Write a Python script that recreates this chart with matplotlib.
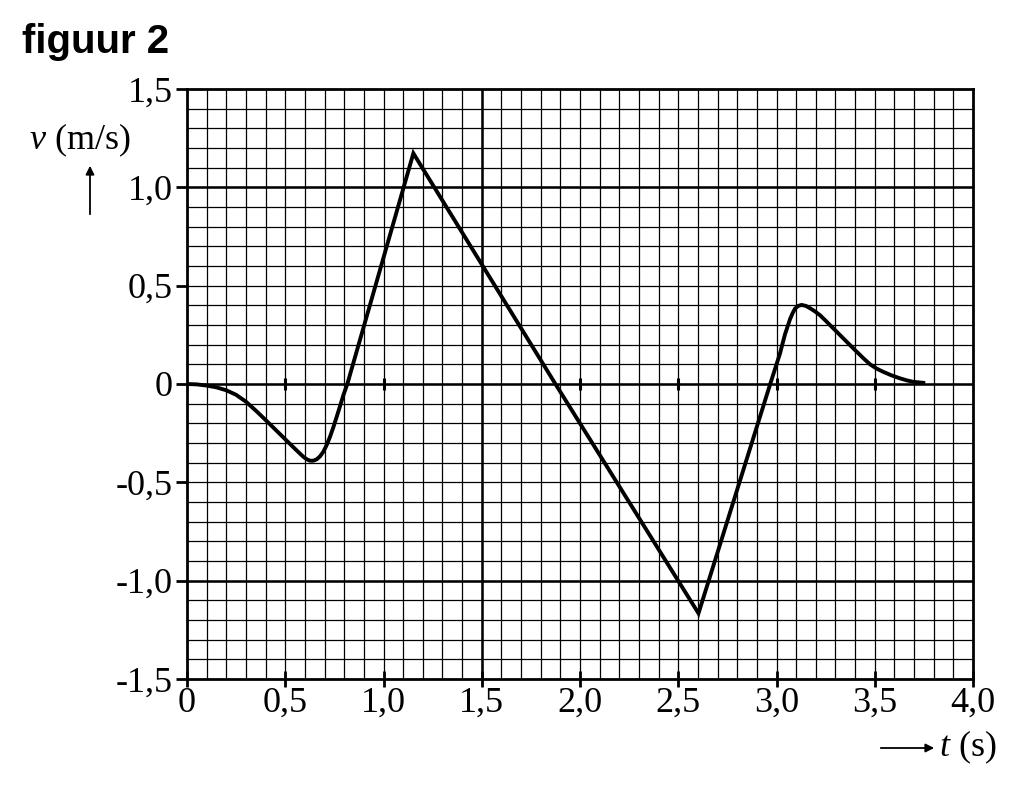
import numpy as np
import matplotlib.pyplot as plt
from matplotlib.patches import FancyArrowPatch

t = [0.00, 0.05, 0.10, 0.15, 0.20, 0.25, 0.30, 0.35, 0.40, 0.45, 0.507, 0.55,
     0.592, 0.61, 0.626, 0.643, 0.66, 0.677, 0.694, 0.711, 0.728, 0.745,
     0.762, 0.779, 0.796, 0.816, 1.152,
     1.875, 2.603, 2.968, 3.018, 3.043, 3.069, 3.082, 3.094, 3.11,
     3.128, 3.15, 3.171, 3.196, 3.221, 3.25, 3.30, 3.35, 3.40, 3.44, 3.476,
     3.51, 3.543, 3.585, 3.628, 3.665, 3.696, 3.747]
v = [0.000, -0.002, -0.008, -0.017, -0.032, -0.055, -0.090, -0.135, -0.183,
     -0.232, -0.288, -0.330, -0.370, -0.383, -0.390, -0.390, -0.383, -0.368,
     -0.344, -0.310, -0.268, -0.219, -0.166, -0.112, -0.056, 0.000, 1.173,
     0.000, -1.166, 0.000, 0.156, 0.252, 0.330, 0.360, 0.383, 0.397,
     0.402, 0.397, 0.385, 0.369, 0.350, 0.322, 0.272, 0.222, 0.172, 0.133,
     0.100, 0.078, 0.062, 0.044, 0.029, 0.018, 0.011, 0.006]

x_ticks = [0, 0.5, 1.0, 1.5, 2.0, 2.5, 3.0, 3.5, 4.0]
x_labels = ["0", "0,5", "1,0", "1,5", "2,0", "2,5", "3,0", "3,5", "4,0"]
y_ticks = [-1.5, -1.0, -0.5, 0, 0.5, 1.0, 1.5]
y_labels = ["-1,5", "-1,0", "-0,5", "0", "0,5", "1,0", "1,5"]
major_t = [1.5]
major_v = [-1.0, 0, 1.0]

plt.rcParams["font.family"] = "Liberation Serif"
plt.rcParams["mathtext.fontset"] = "custom"
plt.rcParams["mathtext.rm"] = "Liberation Serif"
plt.rcParams["mathtext.it"] = "Liberation Serif:italic"

fig = plt.figure(figsize=(10.21, 7.85), dpi=100)
ax = fig.add_axes([187 / 1021, 1 - 679 / 785, 786 / 1021, 590 / 785])

ax.set_xlim(0, 4.0)
ax.set_ylim(-1.5, 1.5)

# millimetre-style grid
for x in np.arange(0.1, 4.0, 0.1):
    ax.axvline(x, color="black", lw=0.9, zorder=1)
for y in np.arange(-1.4, 1.5, 0.1):
    ax.axhline(y, color="black", lw=0.9, zorder=1)
for x in major_t:
    ax.axvline(x, color="black", lw=1.8, zorder=2)
for y in major_v:
    ax.axhline(y, color="black", lw=1.8, zorder=2)

# small marks on the zero line
marks = [x for x in x_ticks[1:-1] if x not in major_t]
ax.plot(marks, [0] * len(marks), linestyle="none", marker="|",
        markersize=9, markeredgewidth=2.2, color="black", zorder=3)

ax.plot(t, v, color="black", lw=2.8, solid_joinstyle="miter", zorder=4)

for s in ax.spines.values():
    s.set_linewidth(2.0)

ax.set_xticks(x_ticks)
ax.set_xticklabels(x_labels)
ax.set_yticks(y_ticks)
ax.set_yticklabels(y_labels)
ax.tick_params(axis="x", direction="inout", length=11, width=2.0,
               labelsize=26, pad=0)
ax.tick_params(axis="y", direction="out", length=8, width=2.0,
               labelsize=26, pad=2)

fig.text(22 / 1021, 1 - 53 / 785, "figuur 2", family="Liberation Sans",
         fontweight="bold", fontsize=29, va="baseline", ha="left")

fig.text(80 / 1021, 1 - 140 / 785, "$v$ (m/s)", fontsize=26,
         ha="center", va="center")
fig.patches.append(FancyArrowPatch(
    (90 / 1021, 1 - 217 / 785), (90 / 1021, 1 - 163 / 785),
    transform=fig.transFigure, arrowstyle="-|>,head_length=5,head_width=2.5",
    color="black", lw=1.3))

fig.text(968 / 1021, 1 - 747 / 785, "$t$ (s)", fontsize=26,
         ha="center", va="center")
fig.patches.append(FancyArrowPatch(
    (878 / 1021, 1 - 748 / 785), (937 / 1021, 1 - 748 / 785),
    transform=fig.transFigure, arrowstyle="-|>,head_length=5,head_width=2.5",
    color="black", lw=1.3))

fig.savefig("out.png", dpi=100)
